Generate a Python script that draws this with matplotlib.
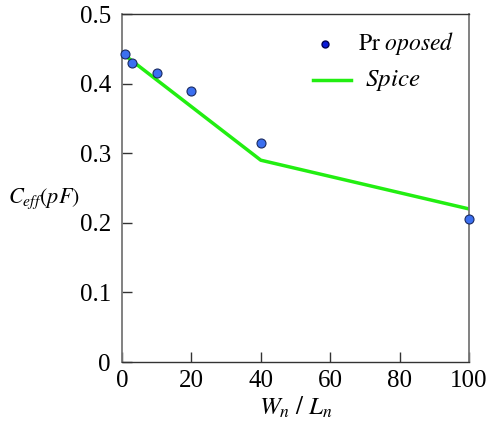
import matplotlib
matplotlib.use("Agg")
import matplotlib.pyplot as plt

prop_x = [1, 3, 10, 20, 40, 100]
prop_y = [0.442, 0.430, 0.415, 0.390, 0.315, 0.205]
spice_x = [1, 40, 100]
spice_y = [0.440, 0.290, 0.220]
xticks = [0, 20, 40, 60, 80, 100]
yticks = [0, 0.1, 0.2, 0.3, 0.4, 0.5]
ytick_labels = ["0", "0.1", "0.2", "0.3", "0.4", "0.5"]

plt.rcParams['font.family'] = ['Liberation Serif', 'DejaVu Serif']
plt.rcParams['mathtext.fontset'] = 'stix'

fig = plt.figure(figsize=(4.87, 4.21), dpi=100)
ax = fig.add_axes([0.2505, 0.140, 0.7125, 0.8267])

ax.plot(spice_x, spice_y, color='#22ee11', lw=2.5, zorder=2)
ax.scatter(prop_x, prop_y, s=42, color='#3b6ff0', edgecolors='#1a2a60',
           linewidths=0.8, zorder=3, clip_on=False)

ax.set_xlim(0, 100)
ax.set_ylim(0, 0.5)
ax.set_xticks(xticks)
ax.set_xticklabels([str(t) for t in xticks])
ax.set_yticks(yticks)
ax.set_yticklabels(ytick_labels)
ax.tick_params(direction='in', length=7, width=1, labelsize=18, pad=8,
               top=False, right=False, colors='#333333', labelcolor='black')
ax.tick_params(axis='x', pad=6)

for s in ['left', 'right']:
    ax.spines[s].set_color('#777777')
    ax.spines[s].set_linewidth(1.3)
for s in ['top', 'bottom']:
    ax.spines[s].set_color('#333333')
    ax.spines[s].set_linewidth(1.0)

ax.set_xlabel(r'$W_n\ /\ L_n$', fontsize=18, labelpad=2)
ax.set_ylabel(r'$C_{\mathit{eff}}\left(pF\right)$', fontsize=16, rotation=0,
              va='center', ha='center')
ax.yaxis.set_label_coords(-0.225, 0.47)

# legend (manual, in axes coords)
ax.plot([0.585], [0.915], 'o', transform=ax.transAxes, color='#0a1ad8',
        markersize=5, markeredgecolor='#000055', clip_on=False)
ax.text(0.68, 0.915, r'$\mathrm{Pr}\ \mathit{oposed}$', transform=ax.transAxes,
        fontsize=17, va='center', ha='left')
ax.plot([0.55, 0.66], [0.81, 0.81], transform=ax.transAxes, color='#22ee11',
        lw=2.5)
ax.text(0.70, 0.81, r'$\mathit{Spice}$', transform=ax.transAxes,
        fontsize=18, va='center', ha='left')

fig.savefig('out.png', dpi=100)
